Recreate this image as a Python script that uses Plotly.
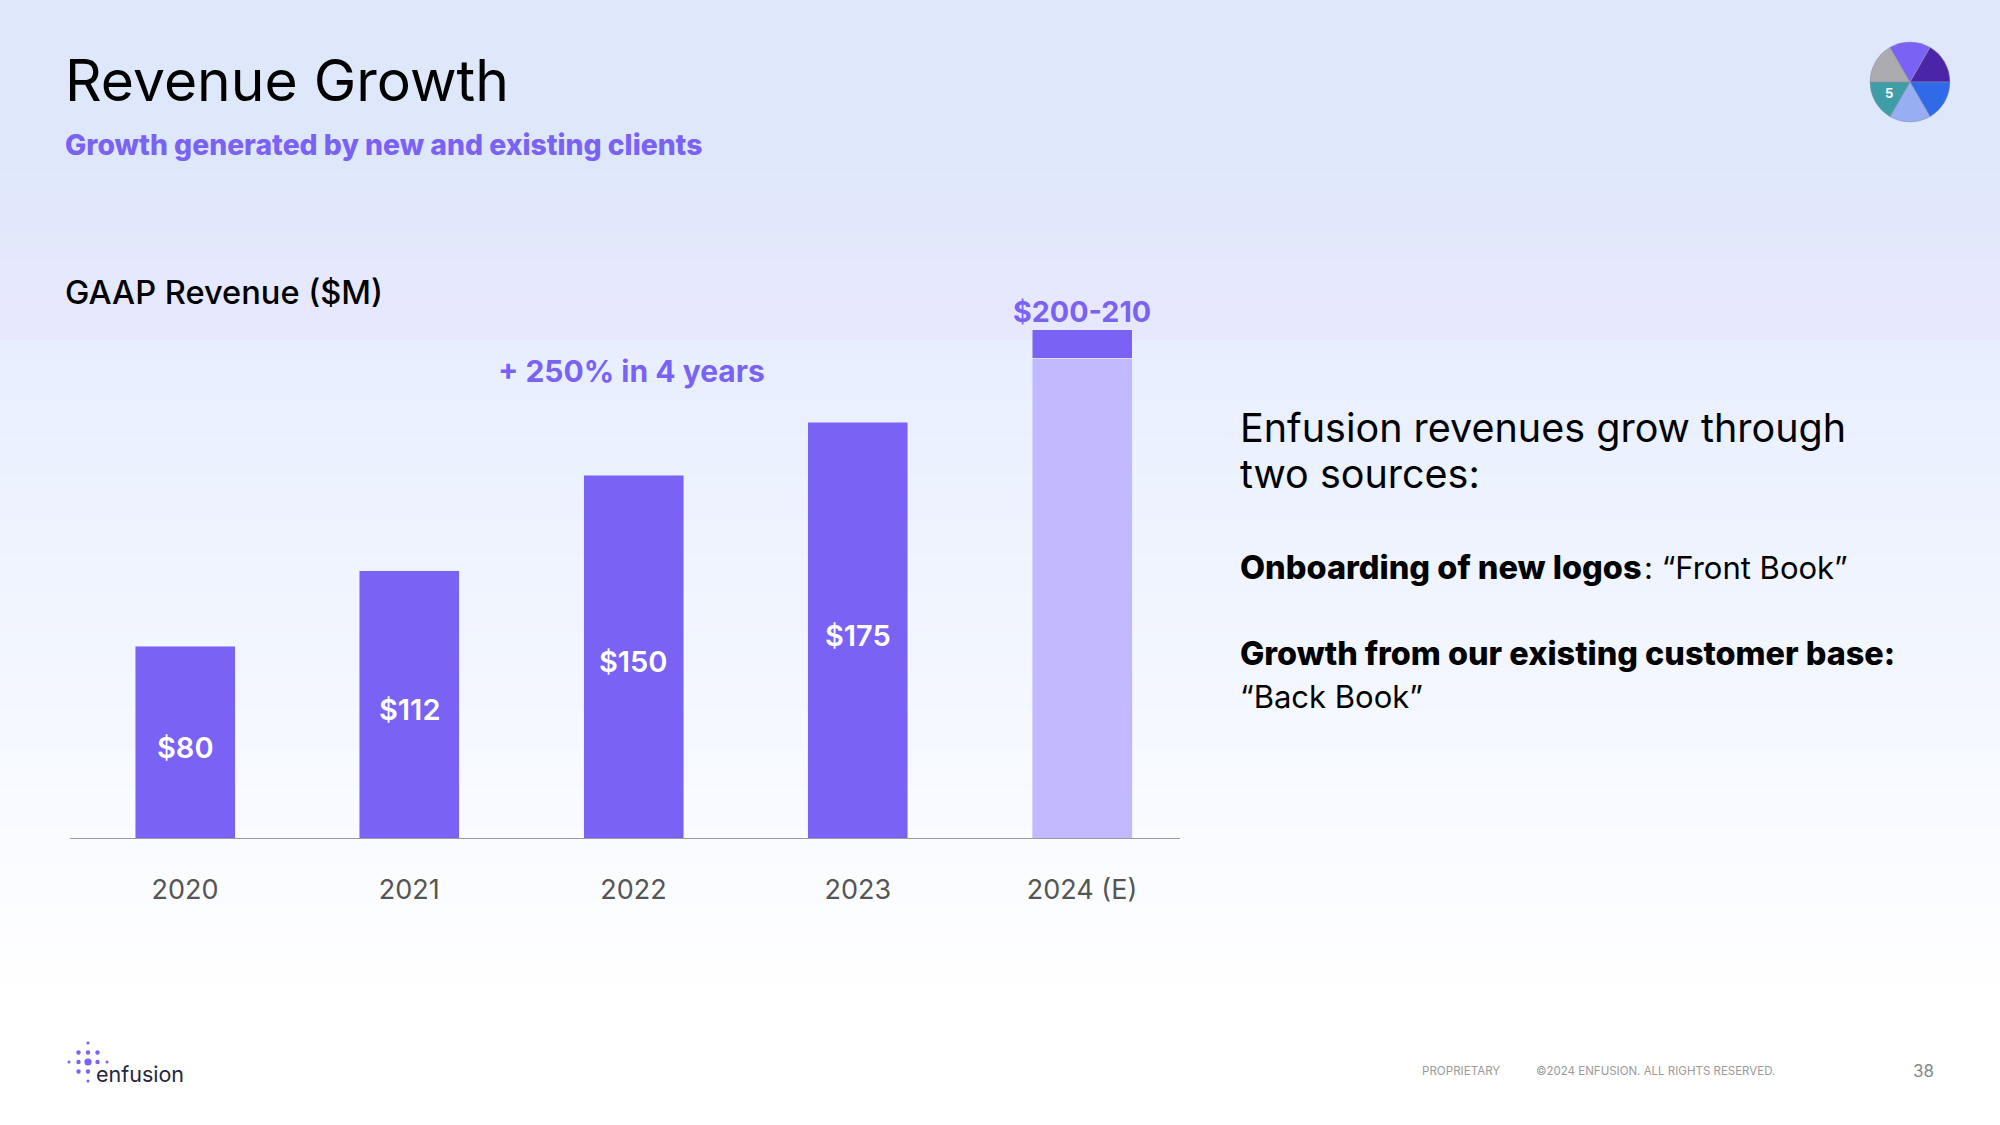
import plotly.graph_objects as go

# bar data
years = ["2020", "2021", "2022", "2023", "2024 (E)"]
revenue = [80, 111.3, 151.2, 173.3, None]
revenue_labels = ["$80", "$112", "$150", "$175", ""]
estimate_low = [None, None, None, None, 200]
estimate_range = [None, None, None, None, 11.7]
estimate_label = "$200-210"

pie_colors = ["#4A25A8", "#2F6BE8", "#97AEF5", "#3F9DA8", "#ABABB0", "#7A62F5"]
pie_values = [1, 1, 1, 1, 1, 1]

# logo dots: column, row, radius
logo_dots = [(0, -2, 1.6), (-1, -1, 2.2), (0, -1, 2.2), (1, -1, 2.2),
             (-2, 0, 1.5), (-1, 0, 2.2), (0, 0, 3.6), (1, 0, 2.2), (2, 0, 1.5),
             (-1, 1, 2.2), (0, 1, 2.2), (0, 2, 1.5)]

# background gradient stops: y pixel, colour (there is a hard step at 337)
bg_stops = [(0, (223, 231, 250)), (160, (223, 232, 251)), (240, (227, 232, 251)),
            (260, (230, 232, 253)), (337, (231, 232, 254)), (338, (231, 238, 254)),
            (1000, (255, 255, 255)), (1125, (255, 255, 255))]

W, H = 2000, 1125
PURPLE = "#7A62F5"
LIGHT = "#C2B8FF"
FONT = "Inter"


def px(x):
    return x / W


def py(y):
    return 1 - y / H


def bg_color(y):
    for (y0, c0), (y1, c1) in zip(bg_stops, bg_stops[1:]):
        if y0 <= y < y1:
            t = (y - y0) / (y1 - y0)
            return "rgb(%d,%d,%d)" % tuple(round(a + (b - a) * t) for a, b in zip(c0, c1))
    return "white"


shapes = []
step = 4
for y in range(0, H, step):
    shapes.append(dict(type="rect", xref="paper", yref="paper", layer="below",
                       x0=0, x1=1, y0=py(y + step), y1=py(y),
                       fillcolor=bg_color(y), line_width=0))

for col, row, r in logo_dots:
    cx, cy = 88 + col * 9.5, 1062 + row * 9.5
    shapes.append(dict(type="circle", xref="paper", yref="paper",
                       x0=px(cx - r), x1=px(cx + r), y0=py(cy + r), y1=py(cy - r),
                       fillcolor=PURPLE, line_width=0))

fig = go.Figure()

fig.add_trace(go.Bar(x=years, y=revenue, marker_color=PURPLE, hoverinfo="skip"))
fig.add_trace(go.Bar(x=years, y=estimate_low, marker_color=LIGHT, hoverinfo="skip"))
fig.add_trace(go.Bar(x=years, y=estimate_range, marker_color=PURPLE, hoverinfo="skip"))

fig.add_trace(go.Pie(values=pie_values, marker=dict(colors=pie_colors, line=dict(color="#8f8fa8", width=0.5)),
                     sort=False, direction="clockwise", rotation=30, textinfo="none",
                     hoverinfo="skip", domain=dict(x=[px(1870), px(1950)], y=[py(122), py(42)])))


def note(text, x, y, size, color="#000000", anchor="left", weight=400):
    fig.add_annotation(text=text, x=px(x), y=py(y), xref="paper", yref="paper",
                       xanchor=anchor, yanchor="middle", showarrow=False,
                       font=dict(family=FONT, size=size, color=color, weight=weight))


note("Revenue Growth", 63, 81, 57)
note("Growth generated by new and existing clients", 63, 145, 28.3, PURPLE, weight=800)
note("GAAP Revenue ($M)", 63, 292, 32.6, weight=500)
note("+ 250% in 4 years", 631, 371, 30, PURPLE, "center", 700)
note("Enfusion revenues grow through", 1238, 428, 39.5)
note("two sources:", 1238, 474, 39.5)
note("Onboarding of new logos", 1238, 567, 32.5, weight=800)
note(": “Front Book”", 1642, 567, 31)
note("Growth from our existing customer base:", 1238, 653, 32.4, weight=800)
note("“Back Book”", 1238, 696, 31)
note("5", 1889, 93, 13, "white", "center", 700)
note("enfusion", 94, 1074, 21.5, "#26263c")
note("PROPRIETARY", 1420, 1071, 11.6, "#9a9a9a")
note("©2024 ENFUSION. ALL RIGHTS RESERVED.", 1534, 1071, 11.5, "#9a9a9a")
note("38", 1936, 1071, 17, "#888888", "right")

# "2020" style names would be read as category positions here, so use the index
for i, (value, label) in enumerate(zip(revenue, revenue_labels)):
    if label:
        fig.add_annotation(text=label, x=i, y=value / 2, xref="x", yref="y", yshift=-5,
                           showarrow=False, font=dict(family=FONT, size=29, color="white", weight=600))

fig.add_annotation(text=estimate_label, x=len(years) - 1, y=estimate_low[-1] + estimate_range[-1],
                   xref="x", yref="y", yanchor="bottom", yshift=-1, showarrow=False,
                   font=dict(family=FONT, size=28.7, color=PURPLE, weight=700))

fig.update_layout(
    width=W, height=H, margin=dict(l=0, r=0, t=0, b=0),
    barmode="stack", bargap=0.554, showlegend=False,
    paper_bgcolor="white", plot_bgcolor="rgba(0,0,0,0)",
    shapes=shapes,
    xaxis=dict(domain=[px(70), px(1180)], range=[-0.513, 4.437], type="category",
               showgrid=False, zeroline=False, showline=True, linecolor="#9a9aa0", linewidth=1,
               ticks="", ticklabelstandoff=28,
               tickfont=dict(family=FONT, size=27, color="#555555")),
    yaxis=dict(domain=[py(838), py(300)], range=[0, 538 / 2.4], visible=False),
)

fig.write_html("out.html", config={"displayModeBar": False},
               post_script="document.body.style.margin='0';document.body.style.overflow='hidden';")
